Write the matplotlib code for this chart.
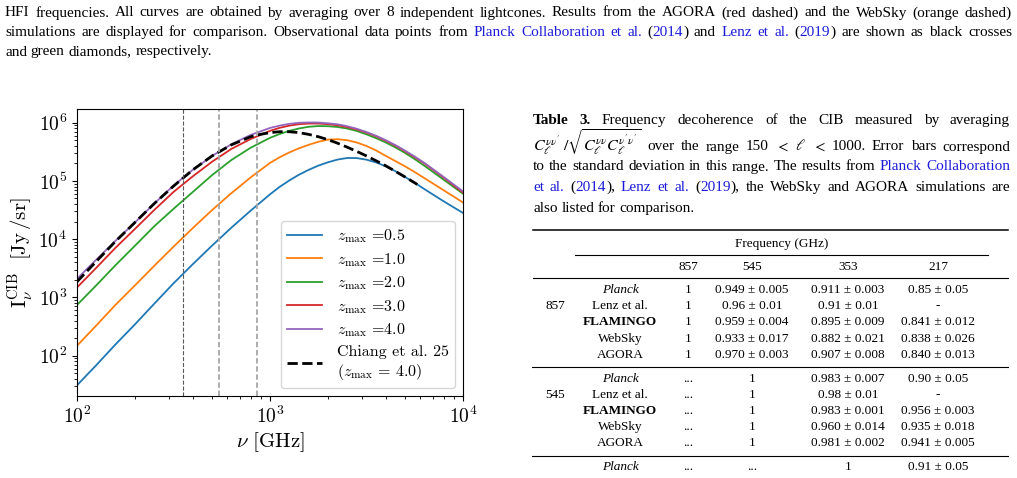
import matplotlib
matplotlib.use("Agg")
import matplotlib.pyplot as plt
from matplotlib.lines import Line2D

W, H = 1017, 478

# ---- chart data, intensities in Jy/sr ----
freq_ghz = [100, 126, 158, 200, 251, 316, 398, 501, 631, 794, 1000, 1122, 1259, 1413,
            1585, 1778, 1995, 2239, 2512, 2818, 3162, 3548, 3981, 4467, 5012, 5623,
            6310, 7943, 10000]
cib_z05 = [31, 69, 155, 347, 776, 1740, 3720, 7760, 15800, 30900, 58900, 79100, 102000,
           128000, 155000, 183000, 209000, 233000, 248000, 247000, 232000, 208000, 178000,
           147000, 117000, 93300, 72400, 44700, 28200]
cib_z10 = [148, 331, 741, 1620, 3470, 7410, 15500, 31600, 61700, 115000, 204000, 255000,
           309000, 364000, 417000, 470000, 513000, 521000, 501000, 457000, 398000, 334000,
           269000, 219000, 178000, 142000, 112000, 69200, 42700]
cib_z20 = [741, 1620, 3550, 7760, 16600, 33100, 64600, 126000, 229000, 372000, 550000,
           640000, 724000, 796000, 851000, 877000, 871000, 845000, 794000, 721000, 631000,
           543000, 457000, 376000, 302000, 237000, 182000, 105000, 60300]
cib_z30 = [1480, 3240, 7080, 15100, 31600, 64600, 120000, 214000, 355000, 525000, 724000,
           817000, 891000, 944000, 966000, 968000, 944000, 904000, 841000, 766000, 676000,
           583000, 490000, 403000, 324000, 256000, 200000, 114000, 63100]
cib_z40 = [2090, 4470, 9330, 19500, 40700, 83200, 155000, 269000, 427000, 617000, 813000,
           893000, 955000, 998000, 1010000, 1007000, 977000, 940000, 871000, 787000, 692000,
           596000, 501000, 412000, 331000, 262000, 204000, 117000, 66100]
chiang_freq = [100, 126, 158, 200, 251, 316, 398, 501, 631, 794, 891, 1000, 1122, 1259,
               1413, 1585, 1778, 1995, 2239, 2512, 2818, 3162, 3548, 3981, 4467, 5012, 5800]
chiang_z40 = [1860, 4170, 9120, 19500, 40700, 81300, 155000, 269000, 417000, 575000, 631000,
              676000, 701000, 700000, 676000, 631000, 575000, 513000, 445000, 380000, 321000,
              269000, 222000, 182000, 146000, 117000, 87100]
curves = [cib_z05, cib_z10, cib_z20, cib_z30, cib_z40]
zmax_labels = ["0.5", "1.0", "2.0", "3.0", "4.0"]
planck_bands = [353, 545, 857]

# ---- table data ----
table_cols = ["857", "545", "353", "217"]
row_names = ["Planck", "Lenz et al.", "FLAMINGO", "WebSky", "AGORA"]
group_857 = [["1", "0.949 ± 0.005", "0.911 ± 0.003", "0.85 ± 0.05"],
             ["1", "0.96 ± 0.01", "0.91 ± 0.01", "-"],
             ["1", "0.959 ± 0.004", "0.895 ± 0.009", "0.841 ± 0.012"],
             ["1", "0.933 ± 0.017", "0.882 ± 0.021", "0.838 ± 0.026"],
             ["1", "0.970 ± 0.003", "0.907 ± 0.008", "0.840 ± 0.013"]]
group_545 = [["...", "1", "0.983 ± 0.007", "0.90 ± 0.05"],
             ["...", "1", "0.98 ± 0.01", "-"],
             ["...", "1", "0.983 ± 0.001", "0.956 ± 0.003"],
             ["...", "1", "0.960 ± 0.014", "0.935 ± 0.018"],
             ["...", "1", "0.981 ± 0.002", "0.941 ± 0.005"]]
group_353 = [["...", "...", "1", "0.91 ± 0.05"]]

BLUE = "#1c1cd8"
STYLES = {"k": {}, "b": {"color": BLUE}, "B": {"weight": "bold"},
          "I": {"style": "italic"}, "M": {"fontsize": 11.5}}

plt.rcParams["mathtext.fontset"] = "cm"
plt.rcParams["font.family"] = "serif"
plt.rcParams["font.serif"] = ["cmr10"]
plt.rcParams["axes.formatter.use_mathtext"] = True

fig = plt.figure(figsize=(W / 100, H / 100), dpi=100)


def fx(x):
    return x / W


def fy(y):
    return 1 - y / H


def put_line(words, x0, y, size, x1=None):
    #   place words on a baseline, justified between x0 and x1 if given
    r = fig.canvas.get_renderer()
    items = []
    for w in words:
        if isinstance(w, str):
            w = [(w, "k")]
        arts = []
        for txt, key in w:
            kw = dict(fontsize=size, family="Liberation Serif", math_fontfamily="stix",
                      va="baseline", ha="left")
            kw.update(STYLES[key])
            t = fig.text(0, 0, txt, **kw)
            arts.append((t, t.get_window_extent(r).width))
        items.append(arts)
    total = sum(wd for arts in items for _, wd in arts)
    gap = size * 100 / 72 * 0.25
    if x1 is not None and len(items) > 1:
        gap = (x1 - x0 - total) / (len(items) - 1)
    x = x0
    for arts in items:
        for t, wd in arts:
            t.set_position((fx(x), fy(y)))
            x += wd
        x += gap


def words(s, key="k"):
    return [[(w, key)] for w in s.split()]


#   Caption above the figure
cap = 11
put_line(words("HFI frequencies. All curves are obtained by averaging over 8 "
               "independent lightcones. Results from the AGORA (red dashed) and "
               "the WebSky (orange dashed)"), 5, 16.5, cap, 1012)
put_line(words("simulations are displayed for comparison. Observational data points from")
         + words("Planck Collaboration et al.", "b")
         + [[("(", "k"), ("2014", "b"), (")", "k")]] + words("and")
         + words("Lenz et al.", "b") + [[("(", "k"), ("2019", "b"), (")", "k")]]
         + words("are shown as black crosses"), 5, 36, cap, 1012)
put_line(words("and green diamonds, respectively."), 5, 55.5, cap)

#   Table caption
put_line(words("Table 3.", "B") + words("Frequency decoherence of the CIB measured by averaging"),
         533, 124, cap, 1010)
put_line([[(r"$C_\ell^{\nu\nu'}\;/\sqrt{C_\ell^{\nu\nu}C_\ell^{\nu'\nu'}}$", "M")]]
         + words("over the range 150") + [r"$<$", r"$\ell$", r"$<$"]
         + words("1000. Error bars correspond"), 533, 150.5, cap, 1010)
put_line(words("to the standard deviation in this range. The results from")
         + words("Planck Collaboration", "b"), 533, 170.5, cap, 1010)
put_line(words("et al.", "b") + [[("(", "k"), ("2014", "b"), ("),", "k")]]
         + words("Lenz et al.", "b") + [[("(", "k"), ("2019", "b"), ("),", "k")]]
         + words("the WebSky and AGORA simulations are"), 533, 191, cap, 1010)
put_line(words("also listed for comparison."), 533, 212, cap)

#   Table
tfs = 9.5
tkw = dict(fontsize=tfs, family="Liberation Serif", ha="center", va="center")
col_x = [688, 752, 848, 938]
for y0, x0, x1, lw in [(230, 533, 1008, 1.1), (254.5, 575, 988, 0.8),
                       (277.5, 533, 1008, 0.8), (366.7, 532, 1008, 0.8),
                       (456, 532, 1008, 0.8)]:
    fig.add_artist(Line2D([fx(x0), fx(x1)], [fy(y0), fy(y0)], color="black", lw=lw))
fig.text(fx(782), fy(243.5), "Frequency (GHz)", **tkw)
for cx, c in zip(col_x, table_cols):
    fig.text(fx(cx), fy(267), c, **tkw)
for label, group, ystart in [("857", group_857, 290), ("545", group_545, 378.5),
                             (None, group_353, 467.5)]:
    for i, row in enumerate(group):
        y = ystart + i * 16.2
        name = row_names[i]
        extra = {"Planck": {"style": "italic"}, "FLAMINGO": {"weight": "bold"}}.get(name, {})
        fig.text(fx(620), fy(y), name, **tkw, **extra)
        for cx, v in zip(col_x, row):
            fig.text(fx(cx), fy(y), v, **tkw)
    if label:
        fig.text(fx(555), fy(ystart + 16.2), label, **tkw)

#   Chart
ax = fig.add_axes([fx(77), fy(396), (463 - 77) / W, (396 - 109) / H])
for i, (vals, z) in enumerate(zip(curves, zmax_labels)):
    ax.plot(freq_ghz, vals, color=f"C{i}", lw=1.3, label=r"$z_{\rm max}$ =" + z)
ax.plot(chiang_freq, chiang_z40, color="black", ls="--", lw=2,
        label="Chiang et al. 25\n" + r"($z_{\rm max}$ = 4.0)")
for nu in planck_bands:
    if nu == 353:
        ax.axvline(nu, color="0.35", ls="--", lw=0.8)
    else:
        ax.axvline(nu, color="0.65", ls=(0, (3, 1.5)), lw=1.3)
ax.set_xscale("log")
ax.set_yscale("log")
ax.set_xlim(100, 10000)
ax.set_ylim(20.3, 1.72e6)
ax.tick_params(labelsize=14)
ax.set_xlabel(r"$\nu\ [\mathrm{GHz}]$", fontsize=15, labelpad=2)
ax.set_ylabel(r"$\mathrm{I}_{\nu}^{\mathrm{CIB}}\ \ [\mathrm{Jy}\,/\mathrm{sr}]$", fontsize=15, labelpad=2)
ax.legend(loc="lower right", fontsize=11.5, handlelength=2.2, labelspacing=0.36,
          handletextpad=0.9)

fig.savefig("out.png", dpi=100)
